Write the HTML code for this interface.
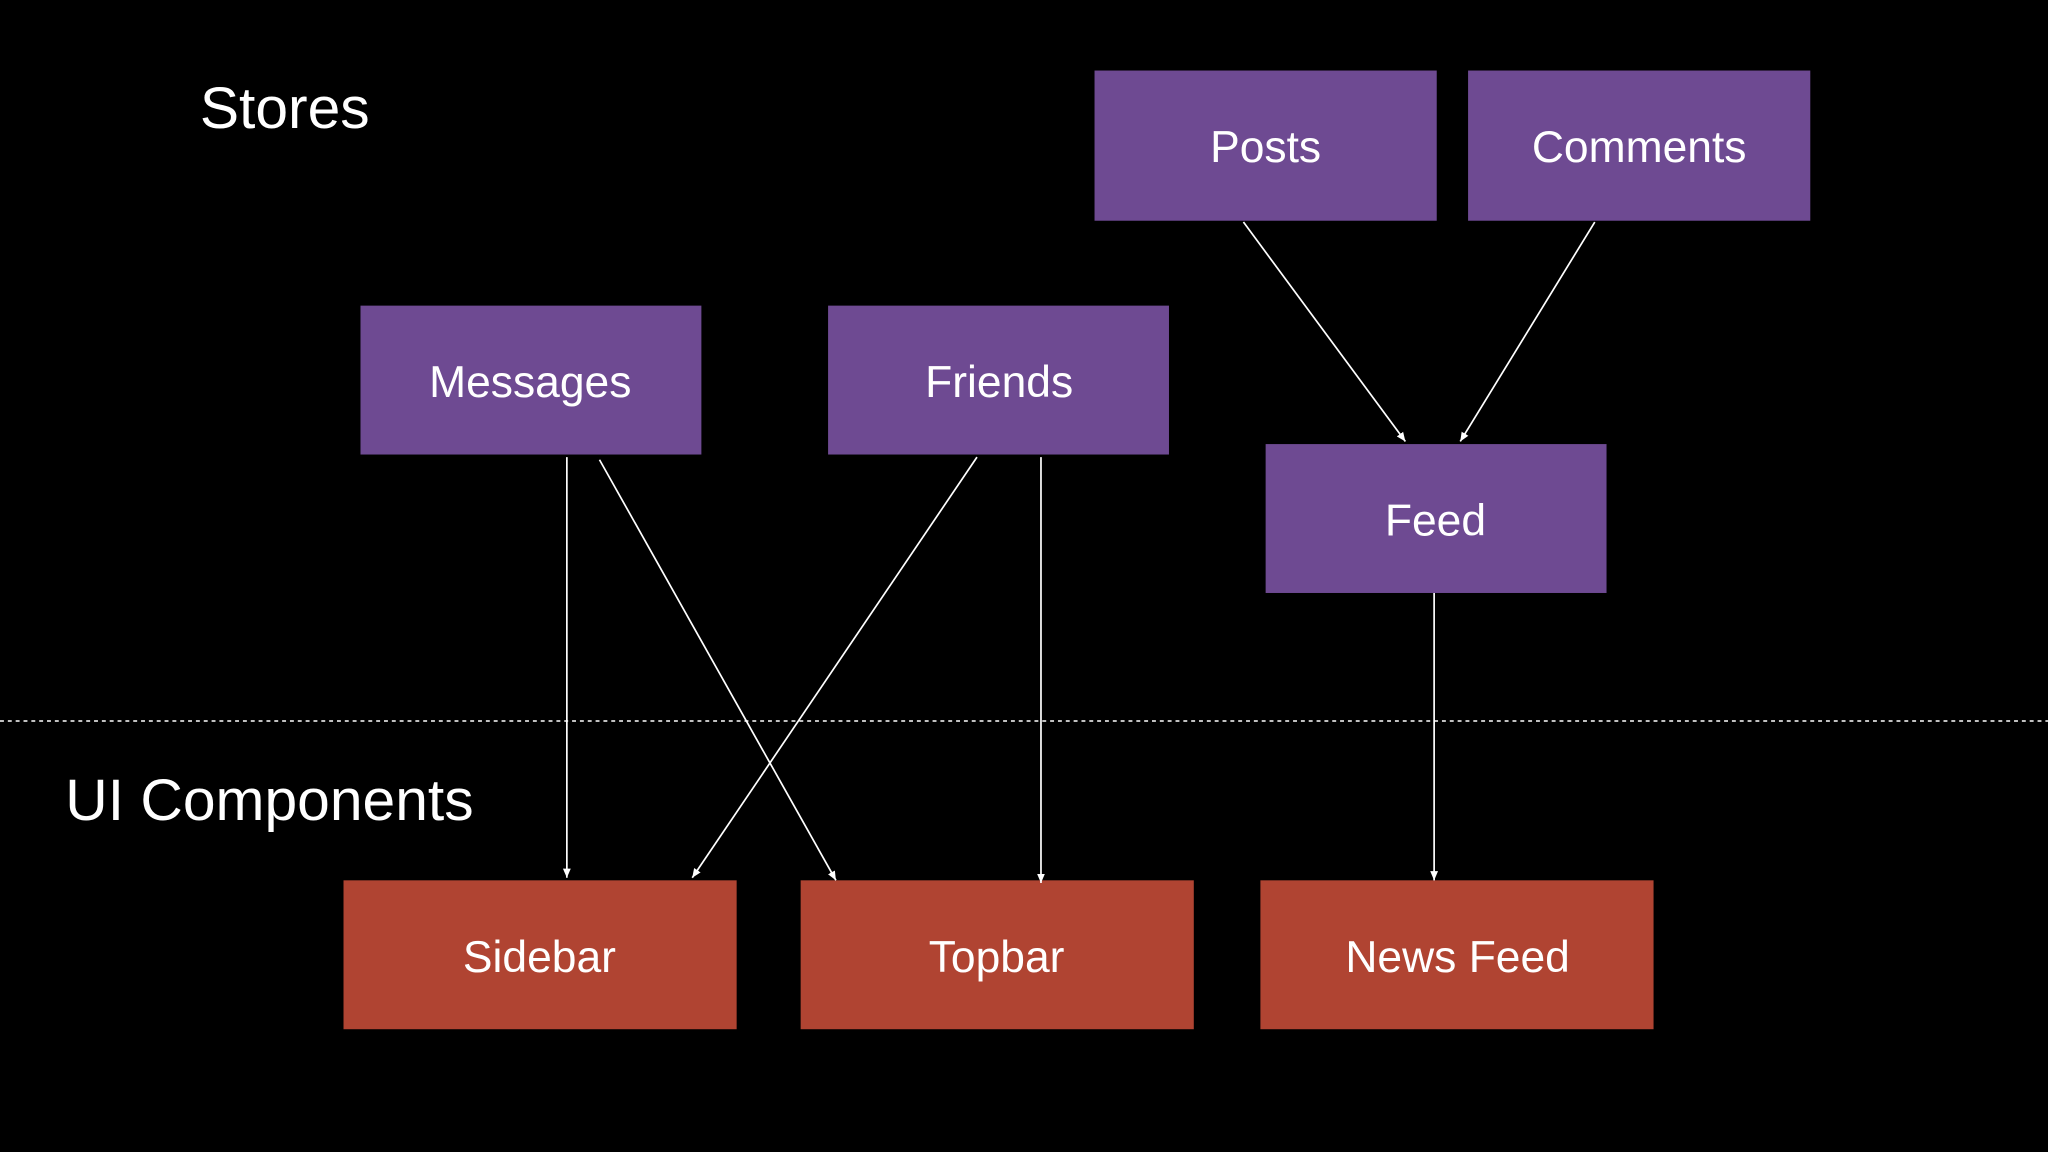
<!DOCTYPE html>
<html><head><meta charset="utf-8"><style>
html,body{margin:0;padding:0;background:#000;width:2048px;height:1152px;overflow:hidden}
svg{display:block}
text{font-family:"Liberation Sans",sans-serif;fill:#fff}
</style></head><body>
<svg width="2048" height="1152" viewBox="0 0 1568 882" xmlns="http://www.w3.org/2000/svg">
<defs>
<marker id="a" markerWidth="8" markerHeight="8" refX="7" refY="4" orient="auto" markerUnits="userSpaceOnUse">
<path d="M0,1 L7,4 L0,7 z" fill="#fff"/>
</marker>
</defs>
<rect width="1568" height="882" fill="#000"/>
<text x="153" y="98" font-size="45">Stores</text>
<text x="50" y="628" font-size="45">UI Components</text>
<line x1="0" y1="552" x2="1568" y2="552" stroke="#fff" stroke-width="1.2" stroke-dasharray="3,3"/>
<g fill="#6e4a92">
<rect x="838" y="54" width="262" height="115"/>
<rect x="1124" y="54" width="262" height="115"/>
<rect x="276" y="234" width="261" height="114"/>
<rect x="634" y="234" width="261" height="114"/>
<rect x="969" y="340" width="261" height="114"/>
</g>
<g fill="#b04432">
<rect x="263" y="674" width="301" height="114"/>
<rect x="613" y="674" width="301" height="114"/>
<rect x="965" y="674" width="301" height="114"/>
</g>
<g font-size="34" text-anchor="middle">
<text x="969" y="124">Posts</text>
<text x="1255" y="124">Comments</text>
<text x="406" y="304">Messages</text>
<text x="765" y="304">Friends</text>
<text x="1099" y="410">Feed</text>
<text x="413" y="744">Sidebar</text>
<text x="763" y="744">Topbar</text>
<text x="1116" y="744">News Feed</text>
</g>
<g stroke="#fff" stroke-width="1.3" marker-end="url(#a)">
<line x1="952" y1="170" x2="1076" y2="338"/>
<line x1="1221" y1="170" x2="1118" y2="338"/>
<line x1="434" y1="350" x2="434" y2="672"/>
<line x1="459" y1="352" x2="640" y2="674"/>
<line x1="748" y1="350" x2="530" y2="672"/>
<line x1="797" y1="350" x2="797" y2="676"/>
<line x1="1098" y1="454" x2="1098" y2="674"/>
</g>
</svg>
</body></html>
